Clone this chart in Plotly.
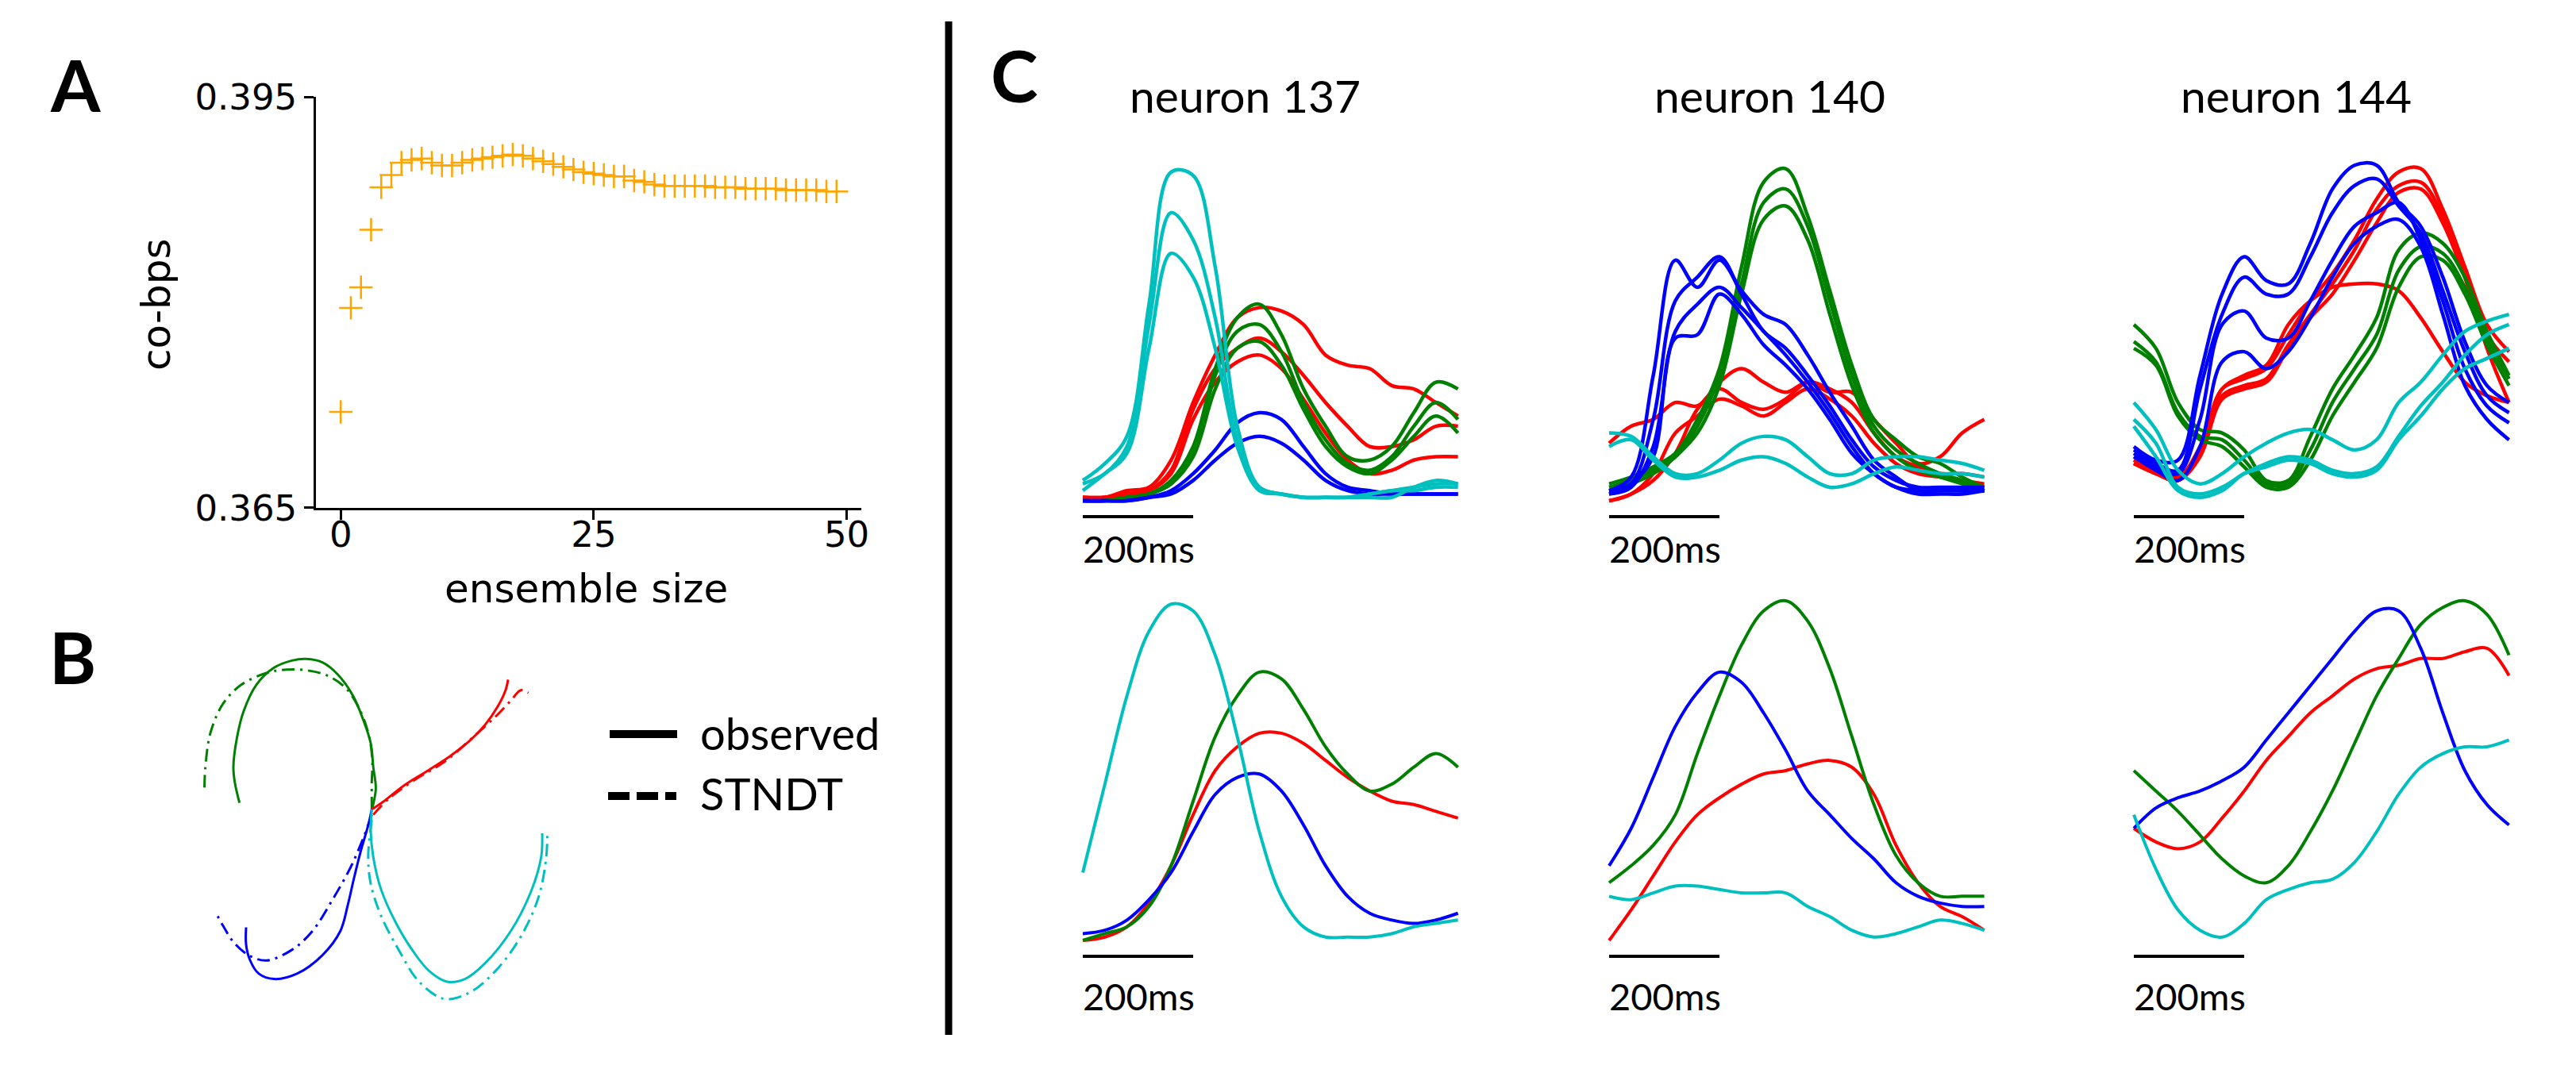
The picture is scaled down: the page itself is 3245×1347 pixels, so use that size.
import plotly.graph_objects as go

# ================= Panel A data =================
ENSEMBLE_SIZE = list(range(50))
CO_BPS = [0.3720, 0.3796, 0.3811, 0.3853, 0.3884, 0.3893, 0.3902, 0.3904, 0.3905, 0.3902,
          0.3900, 0.3900, 0.3902, 0.3904, 0.3905, 0.3906, 0.3907, 0.3908, 0.3907, 0.3905,
          0.3903, 0.3901, 0.3899, 0.3897, 0.3895, 0.3894, 0.3893, 0.3892, 0.3892, 0.3889,
          0.3888, 0.3886, 0.3885, 0.3885, 0.3885, 0.3885, 0.3885, 0.3884, 0.3884, 0.3884,
          0.3883, 0.3883, 0.3883, 0.3883, 0.3882, 0.3882, 0.3882, 0.3882, 0.3881, 0.3881]
A_XTICKS = [0, 25, 50]
A_YTICKS = [0.365, 0.395]
A_YTICK_TEXT = ["0.365", "0.395"]

# ================= Panel B data (latent trajectories) =================
B_GREEN_OBS_X = [0, 0.03, 0.08, 0.03, -0.02, -0.17, -0.37, -0.67, -0.97, -1.29, -1.57, -1.92, -2.27, -2.52, -2.65, -2.72, -2.69, -2.60]
B_GREEN_OBS_Y = [0, 0.20, 0.80, 1.60, 2.50, 3.40, 4.30, 5.10, 5.55, 5.68, 5.62, 5.35, 4.70, 3.70, 2.70, 1.60, 1.00, 0.25]
B_GREEN_STNDT_X = [0, 0, 0, 0.01, -0.07, -0.27, -0.52, -0.87, -1.27, -1.67, -2.07, -2.57, -2.92, -3.17, -3.27, -3.29]
B_GREEN_STNDT_Y = [0, 0.2, 1.0, 1.9, 2.9, 3.9, 4.6, 5.05, 5.25, 5.28, 5.15, 4.7, 4.0, 2.9, 1.6, 0.65]
B_RED_OBS_X = [0, 0.23, 0.63, 1.13, 1.53, 1.93, 2.23, 2.48, 2.63, 2.68]
B_RED_OBS_Y = [0, 0.30, 0.90, 1.50, 2.00, 2.60, 3.20, 3.90, 4.50, 4.90]
B_RED_STNDT_X = [0.03, 0.33, 0.83, 1.43, 2.03, 2.43, 2.73, 2.93, 3.08]
B_RED_STNDT_Y = [-0.2, 0.4, 1.1, 1.8, 2.8, 3.5, 4.1, 4.5, 4.4]
B_BLUE_OBS_X = [0, -0.07, -0.22, -0.35, -0.47, -0.62, -0.97, -1.47, -1.92, -2.22, -2.39, -2.47, -2.47]
B_BLUE_OBS_Y = [0, -0.6, -1.6, -2.6, -3.6, -4.6, -5.5, -6.2, -6.4, -6.2, -5.7, -5.1, -4.45]
B_BLUE_STNDT_X = [0, -0.17, -0.42, -0.77, -1.17, -1.57, -2.07, -2.42, -2.72, -2.92, -3.07]
B_BLUE_STNDT_Y = [-0.2, -1.1, -2.2, -3.4, -4.6, -5.3, -5.7, -5.5, -5.0, -4.4, -3.88]
B_CYAN_OBS_X = [0, -0.02, 0.03, 0.18, 0.48, 0.83, 1.13, 1.48, 1.83, 2.23, 2.73, 3.13, 3.33, 3.35]
B_CYAN_OBS_Y = [0, -0.8, -1.8, -3.0, -4.3, -5.4, -6.1, -6.5, -6.4, -5.8, -4.6, -3.1, -1.8, -0.9]
B_CYAN_STNDT_X = [0, -0.07, -0.02, 0.18, 0.53, 0.93, 1.43, 1.93, 2.43, 2.93, 3.28, 3.43, 3.45]
B_CYAN_STNDT_Y = [-0.4, -1.8, -2.8, -4.0, -5.3, -6.5, -7.15, -6.9, -6.1, -4.8, -3.3, -1.8, -0.8]
B_LEGEND_LABELS = ["observed", "STNDT"]

# ================= Panel C data (normalised firing rates) =================
TIME_MS = [0, 40, 80, 120, 160, 200, 240, 280, 320, 360, 400, 440, 480, 520, 560, 600, 640, 680]
SCALE_MS = 200
NEURON_IDS = ["137", "140", "144"]

# --- single-trial / observed rates (top row) ---
N137_TOP_RED = [
    [0.01, 0.01, 0.03, 0.04, 0.12, 0.29, 0.43, 0.54, 0.57, 0.56, 0.52, 0.43, 0.40, 0.39, 0.34, 0.33, 0.29, 0.25],
    [0.01, 0.01, 0.02, 0.03, 0.09, 0.27, 0.39, 0.45, 0.48, 0.44, 0.37, 0.29, 0.22, 0.16, 0.16, 0.18, 0.22, 0.22],
    [0.01, 0.01, 0.02, 0.03, 0.08, 0.24, 0.35, 0.41, 0.43, 0.39, 0.30, 0.20, 0.12, 0.08, 0.09, 0.12, 0.13, 0.13]]
N137_TOP_GREEN = [
    [0.00, 0.00, 0.01, 0.02, 0.06, 0.16, 0.39, 0.54, 0.58, 0.49, 0.33, 0.22, 0.13, 0.12, 0.16, 0.26, 0.35, 0.33],
    [0.00, 0.00, 0.01, 0.02, 0.05, 0.14, 0.37, 0.50, 0.52, 0.44, 0.29, 0.18, 0.11, 0.09, 0.13, 0.22, 0.29, 0.24],
    [0.00, 0.00, 0.01, 0.02, 0.05, 0.13, 0.33, 0.45, 0.47, 0.40, 0.27, 0.16, 0.10, 0.08, 0.12, 0.19, 0.25, 0.20]]
N137_TOP_BLUE = [
    [0.00, 0.00, 0.00, 0.01, 0.03, 0.08, 0.15, 0.23, 0.26, 0.24, 0.16, 0.08, 0.04, 0.03, 0.02, 0.02, 0.02, 0.02],
    [0.00, 0.00, 0.00, 0.01, 0.02, 0.06, 0.12, 0.17, 0.19, 0.17, 0.12, 0.06, 0.03, 0.02, 0.02, 0.02, 0.02, 0.02]]
N137_TOP_CYAN = [
    [0.06, 0.11, 0.19, 0.58, 0.97, 0.96, 0.69, 0.22, 0.04, 0.02, 0.01, 0.01, 0.01, 0.01, 0.01, 0.04, 0.06, 0.05],
    [0.05, 0.08, 0.16, 0.52, 0.85, 0.77, 0.54, 0.18, 0.04, 0.02, 0.01, 0.01, 0.01, 0.02, 0.03, 0.04, 0.05, 0.05],
    [0.03, 0.08, 0.14, 0.45, 0.73, 0.66, 0.45, 0.16, 0.03, 0.02, 0.01, 0.01, 0.01, 0.02, 0.03, 0.03, 0.04, 0.04]]

N140_TOP_RED = [
    [0.17, 0.22, 0.24, 0.29, 0.28, 0.35, 0.39, 0.35, 0.32, 0.35, 0.32, 0.32, 0.24, 0.17, 0.11, 0.13, 0.20, 0.24],
    [0.00, 0.02, 0.06, 0.14, 0.27, 0.33, 0.29, 0.27, 0.30, 0.35, 0.33, 0.29, 0.20, 0.13, 0.10, 0.08, 0.08, 0.07],
    [0.00, 0.02, 0.08, 0.20, 0.25, 0.30, 0.28, 0.25, 0.29, 0.33, 0.30, 0.25, 0.17, 0.11, 0.08, 0.07, 0.06, 0.05]]
N140_TOP_GREEN = [
    [0.05, 0.07, 0.10, 0.14, 0.24, 0.39, 0.69, 0.94, 0.98, 0.84, 0.62, 0.40, 0.24, 0.18, 0.13, 0.11, 0.07, 0.04],
    [0.04, 0.06, 0.09, 0.13, 0.22, 0.37, 0.64, 0.88, 0.92, 0.81, 0.59, 0.37, 0.22, 0.15, 0.11, 0.08, 0.06, 0.03],
    [0.03, 0.05, 0.08, 0.13, 0.20, 0.34, 0.61, 0.83, 0.87, 0.77, 0.55, 0.34, 0.20, 0.13, 0.09, 0.07, 0.05, 0.03]]
N140_TOP_BLUE = [
    [0.03, 0.07, 0.37, 0.71, 0.63, 0.71, 0.62, 0.55, 0.52, 0.43, 0.32, 0.22, 0.12, 0.07, 0.03, 0.03, 0.03, 0.03],
    [0.03, 0.05, 0.24, 0.59, 0.66, 0.72, 0.61, 0.50, 0.45, 0.37, 0.28, 0.18, 0.10, 0.06, 0.04, 0.04, 0.04, 0.04],
    [0.02, 0.04, 0.16, 0.50, 0.58, 0.63, 0.57, 0.50, 0.43, 0.35, 0.26, 0.16, 0.08, 0.04, 0.02, 0.02, 0.02, 0.03],
    [0.02, 0.05, 0.13, 0.48, 0.49, 0.61, 0.55, 0.46, 0.40, 0.33, 0.24, 0.14, 0.08, 0.04, 0.03, 0.03, 0.03, 0.03]]
N140_TOP_CYAN = [
    [0.20, 0.19, 0.13, 0.08, 0.08, 0.12, 0.17, 0.19, 0.18, 0.13, 0.08, 0.08, 0.12, 0.13, 0.13, 0.12, 0.11, 0.09],
    [0.16, 0.18, 0.12, 0.07, 0.07, 0.09, 0.12, 0.13, 0.11, 0.07, 0.04, 0.05, 0.08, 0.10, 0.09, 0.08, 0.08, 0.07]]

N144_TOP_RED = [
    [0.12, 0.09, 0.07, 0.16, 0.33, 0.36, 0.39, 0.49, 0.59, 0.67, 0.77, 0.89, 0.97, 0.98, 0.86, 0.69, 0.52, 0.44],
    [0.11, 0.08, 0.06, 0.14, 0.31, 0.34, 0.36, 0.46, 0.55, 0.64, 0.74, 0.86, 0.93, 0.94, 0.84, 0.66, 0.45, 0.29],
    [0.11, 0.08, 0.06, 0.13, 0.30, 0.33, 0.35, 0.45, 0.54, 0.61, 0.71, 0.82, 0.91, 0.92, 0.82, 0.66, 0.49, 0.41],
    [0.12, 0.09, 0.07, 0.15, 0.33, 0.37, 0.40, 0.52, 0.59, 0.63, 0.64, 0.64, 0.62, 0.54, 0.44, 0.35, 0.31, 0.29]]
N144_TOP_GREEN = [
    [0.52, 0.45, 0.29, 0.21, 0.20, 0.15, 0.06, 0.06, 0.19, 0.33, 0.43, 0.54, 0.74, 0.79, 0.76, 0.66, 0.50, 0.37],
    [0.47, 0.41, 0.26, 0.19, 0.18, 0.12, 0.05, 0.05, 0.15, 0.29, 0.39, 0.49, 0.68, 0.75, 0.73, 0.63, 0.48, 0.36],
    [0.45, 0.40, 0.25, 0.18, 0.16, 0.10, 0.04, 0.04, 0.12, 0.25, 0.35, 0.45, 0.63, 0.72, 0.71, 0.61, 0.46, 0.34]]
N144_TOP_BLUE = [
    [0.16, 0.12, 0.12, 0.37, 0.61, 0.72, 0.65, 0.64, 0.76, 0.92, 0.99, 0.99, 0.88, 0.81, 0.66, 0.47, 0.34, 0.29],
    [0.15, 0.11, 0.09, 0.33, 0.55, 0.66, 0.61, 0.61, 0.72, 0.85, 0.93, 0.95, 0.87, 0.79, 0.62, 0.44, 0.31, 0.26],
    [0.14, 0.10, 0.08, 0.24, 0.52, 0.56, 0.48, 0.48, 0.59, 0.71, 0.81, 0.85, 0.88, 0.77, 0.59, 0.39, 0.28, 0.23],
    [0.13, 0.09, 0.06, 0.16, 0.41, 0.44, 0.39, 0.44, 0.54, 0.66, 0.76, 0.81, 0.83, 0.75, 0.55, 0.34, 0.24, 0.18]]
N144_TOP_CYAN = [
    [0.29, 0.21, 0.09, 0.05, 0.08, 0.13, 0.17, 0.20, 0.21, 0.18, 0.15, 0.18, 0.29, 0.35, 0.43, 0.50, 0.53, 0.55],
    [0.24, 0.17, 0.04, 0.02, 0.04, 0.08, 0.11, 0.13, 0.12, 0.09, 0.08, 0.10, 0.19, 0.28, 0.35, 0.43, 0.49, 0.52],
    [0.22, 0.13, 0.03, 0.01, 0.03, 0.08, 0.10, 0.12, 0.11, 0.08, 0.07, 0.09, 0.18, 0.25, 0.33, 0.39, 0.42, 0.45]]

# --- STNDT inferred rates (bottom row) ---
N137_BOT_RED = [0.00, 0.01, 0.04, 0.11, 0.22, 0.37, 0.50, 0.57, 0.61, 0.61, 0.58, 0.53, 0.48, 0.44, 0.41, 0.40, 0.38, 0.36]
N137_BOT_GREEN = [0.00, 0.02, 0.04, 0.10, 0.22, 0.41, 0.60, 0.72, 0.79, 0.77, 0.68, 0.57, 0.49, 0.44, 0.46, 0.51, 0.55, 0.51]
N137_BOT_BLUE = [0.02, 0.03, 0.06, 0.12, 0.20, 0.32, 0.43, 0.48, 0.49, 0.44, 0.34, 0.22, 0.13, 0.08, 0.06, 0.05, 0.06, 0.08]
N137_BOT_CYAN = [0.20, 0.46, 0.72, 0.91, 0.99, 0.97, 0.84, 0.60, 0.32, 0.13, 0.04, 0.01, 0.01, 0.01, 0.02, 0.04, 0.05, 0.06]

N140_BOT_RED = [0.00, 0.09, 0.19, 0.29, 0.37, 0.42, 0.46, 0.49, 0.50, 0.52, 0.53, 0.51, 0.43, 0.28, 0.17, 0.10, 0.07, 0.03]
N140_BOT_GREEN = [0.17, 0.22, 0.28, 0.37, 0.55, 0.72, 0.87, 0.97, 1.00, 0.94, 0.80, 0.60, 0.40, 0.25, 0.17, 0.13, 0.13, 0.13]
N140_BOT_BLUE = [0.22, 0.33, 0.48, 0.63, 0.73, 0.79, 0.76, 0.67, 0.56, 0.44, 0.37, 0.30, 0.24, 0.17, 0.13, 0.11, 0.10, 0.10]
N140_BOT_CYAN = [0.13, 0.12, 0.14, 0.16, 0.16, 0.15, 0.14, 0.14, 0.14, 0.10, 0.07, 0.03, 0.01, 0.02, 0.04, 0.06, 0.05, 0.03]

N144_BOT_RED = [0.33, 0.29, 0.27, 0.29, 0.36, 0.44, 0.53, 0.60, 0.67, 0.72, 0.77, 0.80, 0.81, 0.83, 0.83, 0.85, 0.86, 0.78]
N144_BOT_GREEN = [0.50, 0.44, 0.38, 0.31, 0.24, 0.19, 0.17, 0.22, 0.32, 0.44, 0.58, 0.72, 0.83, 0.93, 0.98, 1.00, 0.96, 0.84]
N144_BOT_BLUE = [0.33, 0.39, 0.42, 0.44, 0.47, 0.51, 0.59, 0.67, 0.75, 0.83, 0.91, 0.97, 0.97, 0.86, 0.67, 0.50, 0.40, 0.34]
N144_BOT_CYAN = [0.37, 0.21, 0.09, 0.03, 0.01, 0.05, 0.12, 0.15, 0.17, 0.18, 0.23, 0.32, 0.43, 0.51, 0.55, 0.57, 0.57, 0.59]

# ================= styling / geometry =================
W, H = 3245, 1347
RED, GREEN, BLUE, CYAN, ORANGE = "#FF0000", "#008000", "#0000FF", "#00BFBF", "#FFA500"
LATO = "Lato"
DEJAVU = "DejaVu Sans"


def fx(px):
    return px / W


def fy(py):
    return 1 - py / H


fig = go.Figure()
layout = dict(template="none", width=W, height=H, autosize=False,
              margin=dict(l=0, r=0, t=0, b=0, pad=0, autoexpand=False),
              paper_bgcolor="white", plot_bgcolor="rgba(0,0,0,0)", showlegend=False,
              font=dict(family=LATO, color="black"))

# ---------------- Panel A ----------------
fig.add_trace(go.Scatter(x=ENSEMBLE_SIZE, y=CO_BPS, mode="markers", xaxis="x", yaxis="y",
                         marker=dict(symbol="cross-thin", size=21,
                                     line=dict(color=ORANGE, width=2.5)),
                         hoverinfo="skip"))
axis_common = dict(showgrid=False, zeroline=False, showline=True, linecolor="black", linewidth=2.5,
                   ticks="outside", ticklen=12, tickwidth=2.5, tickcolor="black", automargin=False,
                   tickfont=dict(family=DEJAVU, size=45, color="black"))
layout["xaxis"] = dict(domain=[fx(398), fx(1085)], range=[-2.45, 51.45], anchor="y",
                       tickvals=A_XTICKS, ticklabelstandoff=-20, **axis_common)
layout["yaxis"] = dict(domain=[fy(640), fy(122)], range=[0.36499, 0.39501], anchor="x",
                       tickvals=A_YTICKS, ticktext=A_YTICK_TEXT, **axis_common)

# ---------------- Panel B ----------------
b_traj = [
    (B_GREEN_OBS_X, B_GREEN_OBS_Y, GREEN, "solid"), (B_GREEN_STNDT_X, B_GREEN_STNDT_Y, GREEN, "dashdot"),
    (B_RED_OBS_X, B_RED_OBS_Y, RED, "solid"), (B_RED_STNDT_X, B_RED_STNDT_Y, RED, "dashdot"),
    (B_BLUE_OBS_X, B_BLUE_OBS_Y, BLUE, "solid"), (B_BLUE_STNDT_X, B_BLUE_STNDT_Y, BLUE, "dashdot"),
    (B_CYAN_OBS_X, B_CYAN_OBS_Y, CYAN, "solid"), (B_CYAN_STNDT_X, B_CYAN_STNDT_Y, CYAN, "dashdot"),
]
for bx, by, col, style in b_traj:
    dash = "solid" if style == "solid" else "16px,7px,3px,7px"
    fig.add_trace(go.Scatter(x=bx, y=by, mode="lines", xaxis="x2", yaxis="y2",
                             line=dict(color=col, width=3, dash=dash, shape="spline"),
                             hoverinfo="skip"))
hidden = dict(visible=False, automargin=False, showgrid=False, zeroline=False)
layout["xaxis2"] = dict(domain=[fx(244), fx(699)], range=[-3.5, 3.6], anchor="y2", **hidden)
layout["yaxis2"] = dict(domain=[fy(1267), fy(823)], range=[-7.4, 5.9], anchor="x2", **hidden)

# ---------------- Panel C ----------------
top_sets = [
    (N137_TOP_RED, N137_TOP_GREEN, N137_TOP_BLUE, N137_TOP_CYAN),
    (N140_TOP_RED, N140_TOP_GREEN, N140_TOP_BLUE, N140_TOP_CYAN),
    (N144_TOP_RED, N144_TOP_GREEN, N144_TOP_BLUE, N144_TOP_CYAN),
]
bot_sets = [
    (N137_BOT_RED, N137_BOT_GREEN, N137_BOT_BLUE, N137_BOT_CYAN),
    (N140_BOT_RED, N140_BOT_GREEN, N140_BOT_BLUE, N140_BOT_CYAN),
    (N144_BOT_RED, N144_BOT_GREEN, N144_BOT_BLUE, N144_BOT_CYAN),
]
colors = [RED, GREEN, BLUE, CYAN]
col_start_px = [1364, 2027, 2688]
px_per_ms = 0.695
t_range = [-5, 685]
shapes = []
annotations = []

ax_idx = 3
for ci in range(3):
    x0px = col_start_px[ci] + t_range[0] * px_per_ms
    x1px = col_start_px[ci] + t_range[1] * px_per_ms
    for row in range(2):
        xa, ya = f"x{ax_idx}", f"y{ax_idx}"
        if row == 0:
            base_px, unit_px = 631, 427
            for col, trials in zip(colors, top_sets[ci]):
                for tr in trials:
                    fig.add_trace(go.Scatter(x=TIME_MS, y=tr, mode="lines", xaxis=xa, yaxis=ya,
                                             line=dict(color=col, width=4.5, shape="spline"),
                                             hoverinfo="skip"))
            bar_px, label_px = 651, 691
        else:
            base_px, unit_px = 1185, 428
            for col, tr in zip(colors, bot_sets[ci]):
                fig.add_trace(go.Scatter(x=TIME_MS, y=tr, mode="lines", xaxis=xa, yaxis=ya,
                                         line=dict(color=col, width=4, shape="spline"),
                                         hoverinfo="skip"))
            bar_px, label_px = 1205, 1255
        layout[f"xaxis{ax_idx}"] = dict(domain=[fx(x0px), fx(x1px)], range=t_range, anchor=ya, **hidden)
        layout[f"yaxis{ax_idx}"] = dict(domain=[fy(base_px + 0.05 * unit_px), fy(base_px - 1.05 * unit_px)],
                                        range=[-0.05, 1.05], anchor=xa, **hidden)
        # 200 ms scale bar
        shapes.append(dict(type="line", xref=xa, yref="paper", x0=0, x1=SCALE_MS,
                           y0=fy(bar_px), y1=fy(bar_px), line=dict(color="black", width=4)))
        annotations.append(dict(text=f"{SCALE_MS}ms", xref="paper", yref="paper",
                                x=fx(col_start_px[ci] - 2), y=fy(label_px), xanchor="left",
                                yanchor="middle", showarrow=False,
                                font=dict(family=LATO, size=47, color="black")))
        ax_idx += 1

# neuron titles
title_cx = [1568, 2229, 2892]
for nid, cx in zip(NEURON_IDS, title_cx):
    annotations.append(dict(text=f"neuron {nid}", xref="paper", yref="paper", x=fx(cx), y=fy(120),
                            xanchor="center", yanchor="middle", showarrow=False,
                            font=dict(family=LATO, size=57, color="black")))

# panel A axis titles
annotations.append(dict(text="ensemble size", xref="paper", yref="paper", x=fx(738), y=fy(742),
                        xanchor="center", yanchor="middle", showarrow=False,
                        font=dict(family=DEJAVU, size=50, color="black")))
annotations.append(dict(text="co-bps", xref="paper", yref="paper", x=fx(197), y=fy(384),
                        xanchor="center", yanchor="middle", showarrow=False, textangle=-90,
                        font=dict(family=DEJAVU, size=50, color="black")))

# panel letters
for letter, (lx, ly) in zip(["A", "B", "C"], [(95, 106), (91, 827), (1278, 94)]):
    annotations.append(dict(text=f"<b>{letter}</b>", xref="paper", yref="paper", x=fx(lx), y=fy(ly),
                            xanchor="center", yanchor="middle", showarrow=False,
                            font=dict(family=LATO, size=90, color="black")))

# panel B legend
shapes.append(dict(type="line", xref="paper", yref="paper", x0=fx(768), x1=fx(853),
                   y0=fy(925), y1=fy(925), line=dict(color="black", width=10)))
shapes.append(dict(type="line", xref="paper", yref="paper", x0=fx(766), x1=fx(852),
                   y0=fy(1003), y1=fy(1003), line=dict(color="black", width=10, dash="27px,9px")))
for lab, ly in zip(B_LEGEND_LABELS, [923, 999]):
    annotations.append(dict(text=lab, xref="paper", yref="paper", x=fx(880), y=fy(ly),
                            xanchor="left", yanchor="middle", showarrow=False,
                            font=dict(family=LATO, size=56, color="black")))

# divider between panels
shapes.append(dict(type="line", xref="paper", yref="paper", x0=fx(1195), x1=fx(1195),
                   y0=fy(27), y1=fy(1304), line=dict(color="black", width=9)))

layout["shapes"] = shapes
layout["annotations"] = annotations
fig.update_layout(**layout)

fig.write_html("out.html", config={"displayModeBar": False},
               post_script="document.body.style.margin='0';document.body.style.overflow='hidden';")
